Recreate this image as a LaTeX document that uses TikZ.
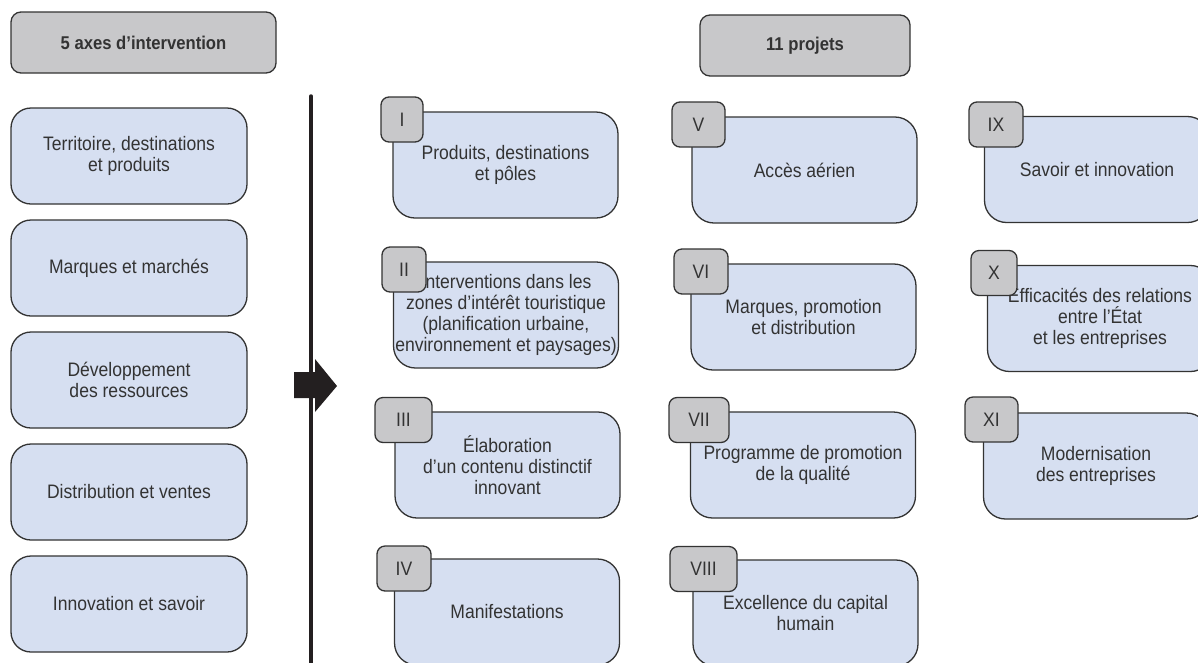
\documentclass[tikz,border=0pt]{standalone}
\usepackage{fontspec}
\setmainfont{Liberation Sans}[FakeStretch=0.9]

\definecolor{boxblue}{RGB}{214,223,241}
\definecolor{boxgrey}{RGB}{200,200,202}
\definecolor{edge}{RGB}{51,51,51}
\definecolor{ink}{RGB}{35,31,32}

\begin{document}
\begin{tikzpicture}[x=1pt,y=-1pt,
    every node/.style={text=edge, font=\fontsize{19.5}{21}\selectfont, align=center, inner sep=0pt},
    head/.style={draw=edge, line width=1.3pt, fill=boxgrey, rounded corners=10pt, minimum height=61pt, font=\fontsize{18.5}{21}\selectfont\bfseries},
    axis/.style={draw=edge, line width=1.3pt, fill=boxblue, rounded corners=20pt, minimum width=236pt, minimum height=96pt},
    project/.style={draw=edge, line width=1.3pt, fill=boxblue, rounded corners=22pt, minimum width=225pt, minimum height=106pt},
    badge/.style={draw=edge, line width=1.3pt, fill=boxgrey, rounded corners=8pt, minimum height=45pt}]
    \useasboundingbox (0,0) rectangle (1198,662);
    \clip (0,0) rectangle (1198,662);

    % titles
    \node[head, minimum width=265pt] (axes) at (143.5,42.5) {5 axes d’intervention};
    \node[head, minimum width=210pt] (projets) at (805,45.5) {11 projets};

    % the five axes
    \node[axis] (a1) at (129,156) {Territoire, destinations\\et produits};
    \node[axis] (a2) at (129,268) {Marques et marchés};
    \node[axis] (a3) at (129,380) {Développement\\des ressources};
    \node[axis] (a4) at (129,492) {Distribution et ventes};
    \node[axis] (a5) at (129,604) {Innovation et savoir};

    % divider and block arrow
    \coordinate (top) at (311,96);
    \coordinate (bottom) at (311,670);
    \draw[ink, line width=3.5pt, line cap=round] (top) -- (bottom);
    \fill[ink] (294,372) -- (315,372) -- (315,359) -- (337,386) -- (315,412) -- (315,398) -- (294,398) -- cycle;

    % the eleven projects
    \node[project] (p1) at (505.5,165) {Produits, destinations\\et pôles};
    \node[project] (p2) at (506,315) {Interventions dans les\\zones d’intérêt touristique\\(planification urbaine,\\environnement et paysages)};
    \node[project] (p3) at (507.5,465) {Élaboration\\d’un contenu distinctif\\innovant};
    \node[project] (p4) at (507,612) {Manifestations};
    \node[project] (p5) at (804.5,170) {Accès aérien};
    \node[project] (p6) at (803.5,317) {Marques, promotion\\et distribution};
    \node[project] (p7) at (803,465) {Programme de promotion\\de la qualité};
    \node[project] (p8) at (805.5,613) {Excellence du capital\\humain};
    \node[project] (p9) at (1097,169.5) {Savoir et innovation};
    \node[project] (p10) at (1100,318.5) {Efficacités des relations\\entre l’État\\et les entreprises};
    \node[project] (p11) at (1096,466) {Modernisation\\des entreprises};

    % numbers
    \node[badge, minimum width=42pt] (b1) at (402,119.5) {I};
    \node[badge, minimum width=44pt] (b2) at (404,269.5) {II};
    \node[badge, minimum width=57pt] (b3) at (403.5,420) {III};
    \node[badge, minimum width=54pt] (b4) at (404,568.5) {IV};
    \node[badge, minimum width=53pt] (b5) at (698.5,124.5) {V};
    \node[badge, minimum width=54pt] (b6) at (701,271.5) {VI};
    \node[badge, minimum width=60pt] (b7) at (699,420) {VII};
    \node[badge, minimum width=67pt] (b8) at (703.5,569) {VIII};
    \node[badge, minimum width=54pt] (b9) at (996,124.5) {IX};
    \node[badge, minimum width=46pt] (b10) at (994,273) {X};
    \node[badge, minimum width=53pt] (b11) at (991.5,419.5) {XI};
\end{tikzpicture}
\end{document}
